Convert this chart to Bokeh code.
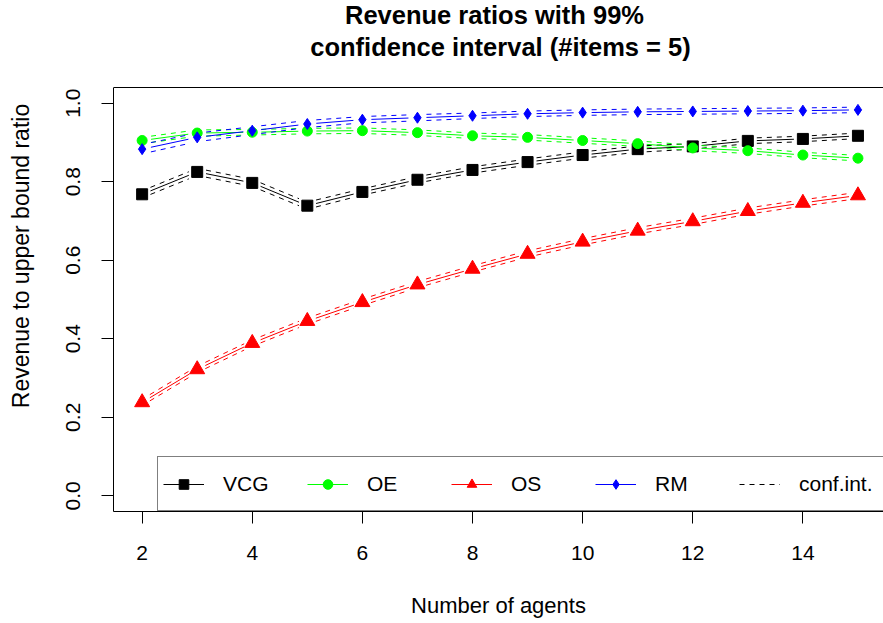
import math
from bokeh.plotting import figure
from bokeh.models import Range1d, Legend, LegendItem, Span, PrintfTickFormatter, FixedTicker
from bokeh.core.properties import value
from bokeh.embed import file_html
from bokeh.resources import INLINE

# ---------------- data ----------------
agents = [2, 3, 4, 5, 6, 7, 8, 9, 10, 11, 12, 13, 14, 15]
vcg = [0.768, 0.825, 0.797, 0.739, 0.774, 0.805, 0.830, 0.850, 0.868, 0.883, 0.890, 0.904, 0.909, 0.917]
oe = [0.905, 0.924, 0.926, 0.929, 0.930, 0.925, 0.917, 0.913, 0.905, 0.897, 0.886, 0.879, 0.868, 0.860]
os_ = [0.238, 0.322, 0.389, 0.445, 0.493, 0.538, 0.578, 0.616, 0.647, 0.675, 0.699, 0.725, 0.746, 0.765]
rm = [0.883, 0.913, 0.930, 0.947, 0.958, 0.963, 0.968, 0.973, 0.976, 0.978, 0.979, 0.980, 0.981, 0.983]
# 99% confidence half-widths
vcg_ci = [0.009, 0.009, 0.009, 0.009, 0.008, 0.008, 0.008, 0.008, 0.008, 0.008, 0.007, 0.007, 0.007, 0.007]
oe_ci = [0.008, 0.008, 0.007, 0.007, 0.007, 0.007, 0.007, 0.007, 0.007, 0.007, 0.007, 0.007, 0.007, 0.007]
os_ci = [0.008, 0.008, 0.008, 0.008, 0.008, 0.008, 0.008, 0.008, 0.008, 0.008, 0.008, 0.008, 0.008, 0.008]
rm_ci = [0.012, 0.011, 0.010, 0.009, 0.008, 0.008, 0.007, 0.007, 0.007, 0.007, 0.007, 0.007, 0.007, 0.007]

series_names = ["VCG", "OE", "OS", "RM"]
series_colors = ["#000000", "#00FF00", "#FF0000", "#0000FF"]
x_ticks = [2, 4, 6, 8, 10, 12, 14]
y_ticks = [0.0, 0.2, 0.4, 0.6, 0.8, 1.0]
title_lines = ["Revenue ratios with 99%", "confidence interval (#items = 5)"]
x_label = "Number of agents"
y_label = "Revenue to upper bound ratio"

# ---------------- layout ----------------
W, H = 883, 623
LEFT, BOTTOM = 113, 112
BOX_TOP_PX = 87                      # top edge of the R plot box (window px)
X0, X1 = 1.48, 15.464
Y0, Y1 = -0.04, 1.04                 # the R plot region
SX = (W - LEFT) / (X1 - X0)
SY = (H - BOTTOM - BOX_TOP_PX) / (Y1 - Y0)
YTOP = Y0 + (H - BOTTOM) / SY        # frame extends to the top of the canvas
FONT = "Liberation Sans"


def px_to_x(px):
    return X0 + (px - LEFT) / SX


def px_to_y(py):
    return Y0 + (H - BOTTOM - py) / SY


p = figure(width=W, height=H, output_backend="svg", toolbar_location=None, title=None,
           x_range=Range1d(X0, X1), y_range=Range1d(Y0, YTOP),
           min_border_left=LEFT, min_border_right=0, min_border_top=0,
           min_border_bottom=BOTTOM, background_fill_color="white",
           border_fill_color="white")
p.outline_line_color = None
p.grid.visible = False

# two-line bold title above the box
p.text(x=[px_to_x(494), px_to_x(500)], y=[px_to_y(14), px_to_y(46)], text=title_lines,
       text_align="center", text_baseline="alphabetic", text_font=value(FONT),
       text_font_size=value("25.5px"), text_font_style="bold", text_color="black")


def gapped(xs, ys, gap=9.0):
    a0, b0, a1, b1 = [], [], [], []
    for i in range(len(xs) - 1):
        dx = xs[i + 1] - xs[i]
        dy = ys[i + 1] - ys[i]
        L = math.hypot(dx * SX, dy * SY)
        if L <= 2 * gap:
            continue
        f = gap / L
        a0.append(xs[i] + dx * f)
        b0.append(ys[i] + dy * f)
        a1.append(xs[i + 1] - dx * f)
        b1.append(ys[i + 1] - dy * f)
    return dict(x0=a0, y0=b0, x1=a1, y1=b1)


values = [vcg, oe, os_, rm]
cis = [vcg_ci, oe_ci, os_ci, rm_ci]
markers = [dict(marker="square", size=11),
           dict(marker="circle", size=10),
           dict(marker="triangle", size=15),
           dict(marker="diamond", size=11)]

legend_items = []
ci_renderer = None
for name, col, vals, ci, mk in zip(series_names, series_colors, values, cis, markers):
    lo = [v - c for v, c in zip(vals, ci)]
    hi = [v + c for v, c in zip(vals, ci)]
    rl = p.segment(line_color=col, line_width=1, **gapped(agents, vals))
    r_lo = p.segment(line_color=col, line_width=1, line_dash="5 5", **gapped(agents, lo))
    p.segment(line_color=col, line_width=1, line_dash="5 5", **gapped(agents, hi))
    rp = p.scatter(agents, vals, marker=mk["marker"], size=mk["size"],
                   fill_color=col, line_color=col)
    legend_items.append(LegendItem(label=name, renderers=[rl, rp]))
    if ci_renderer is None:
        ci_renderer = r_lo
legend_items.append(LegendItem(label="conf.int.", renderers=[ci_renderer]))

# top border of the box
p.add_layout(Span(location=Y1, dimension="width", line_color="black", line_width=1))

for ax in (p.xaxis[0], p.yaxis[0]):
    ax.axis_line_color = "black"
    ax.major_tick_line_color = "black"
    ax.minor_tick_line_color = None
    ax.major_tick_in = 0
    ax.major_tick_out = 12
    ax.major_label_text_font = FONT
    ax.major_label_text_font_size = "21px"
    ax.major_label_text_color = "black"
    ax.axis_label_text_font = FONT
    ax.axis_label_text_font_size = "22px"
    ax.axis_label_text_font_style = "normal"
    ax.axis_label_text_color = "black"

p.yaxis.bounds = (Y0, Y1)
p.xaxis.ticker = FixedTicker(ticks=x_ticks)
p.yaxis.ticker = FixedTicker(ticks=y_ticks)
p.yaxis.formatter = PrintfTickFormatter(format="%.1f")
p.yaxis.major_label_orientation = "vertical"
p.xaxis.axis_label = x_label
p.yaxis.axis_label = y_label
p.yaxis.axis_label_text_font_size = "23px"
p.xaxis.major_label_standoff = 22
p.yaxis.major_label_standoff = 21
p.xaxis.axis_label_standoff = 30
p.yaxis.axis_label_standoff = 30

legend = Legend(items=legend_items, orientation="horizontal", location=(44, 0),
                margin=0, padding=5, spacing=4, glyph_width=41, glyph_height=24,
                label_standoff=19, label_width=80, label_height=43,
                label_text_font=FONT, label_text_font_size="21px",
                label_text_color="black", border_line_color="black",
                border_line_width=1, background_fill_color="white",
                background_fill_alpha=1.0)
p.add_layout(legend)

open("out.html", "w").write(file_html(p, INLINE))
